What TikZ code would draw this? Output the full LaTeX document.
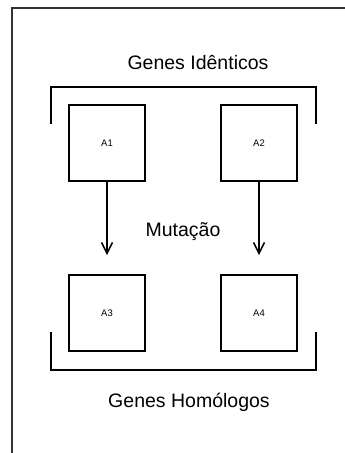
\documentclass[tikz,border=0pt]{standalone}
\usepackage{fontspec}
\setmainfont{Liberation Sans}
\usetikzlibrary{arrows.meta}
\tikzset{
    gene/.style={draw, line width=1.6pt, minimum size=76pt, inner sep=0pt, font=\fontsize{9.5}{10}\selectfont},
    caption/.style={font=\fontsize{19.5}{22}\selectfont},
    bracket/.style={line width=1.5pt},
    mutarrow/.style={line width=1.6pt, -{Straight Barb[length=11pt,width=11pt,line width=1.6pt]}, shorten >=19pt}
}
\begin{document}
\begin{tikzpicture}[x=1pt,y=-1pt]
    \useasboundingbox (0,0) rectangle (345,453);
    % page frame
    \draw[line width=1.2pt, black!80] (12,460)--(12,8)--(350,8);
    % identical genes
    \node[caption] (identicos) at (198,62) {Genes Idênticos};
    \draw[bracket] (51,124)--(51,87)--(316,87)--(316,124);
    \node[gene] (a1) at (107,143) {A1};
    \node[gene] (a2) at (259,143) {A2};
    % homologous genes
    \node[gene] (a3) at (107,313) {A3};
    \node[gene] (a4) at (259,313) {A4};
    \draw[bracket] (51,332)--(51,370)--(316,370)--(316,332);
    \node[caption] (homologos) at (189,402) {Genes Homólogos};
    % mutation
    \draw[mutarrow] (a1)--(a3);
    \draw[mutarrow] (a2)--(a4);
    \node[caption] (mutacao) at (183,232) {Mutação};
\end{tikzpicture}
\end{document}
